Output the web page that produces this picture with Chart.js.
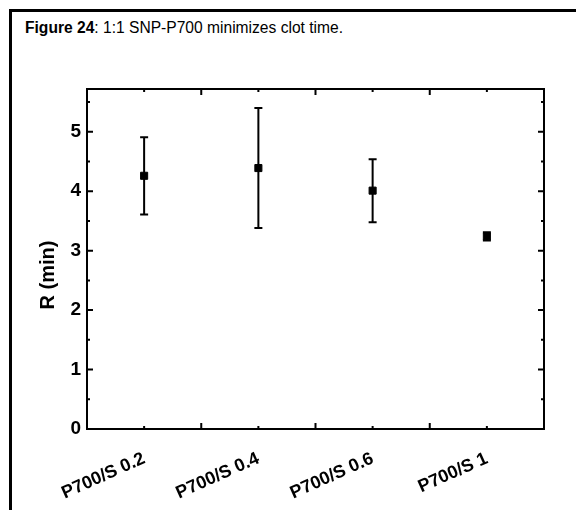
<!DOCTYPE html>
<html>
<head>
<meta charset="utf-8">
<script src="https://cdn.jsdelivr.net/npm/chart.js@4.4.0/dist/chart.umd.min.js"></script>
<style>
  html, body { margin: 0; padding: 0; background: #fff; }
  #wrap { position: relative; width: 576px; height: 510px; overflow: hidden; }
  #frame { position: absolute; left: 9px; top: 9px; width: 620px; height: 620px; border: 3px solid #000; box-sizing: border-box; }
  #caption { position: absolute; left: 25px; top: 19px; line-height: 18px; font-size: 15.6px; font-family: "Liberation Sans", Arial, sans-serif; color: #000; white-space: nowrap; }
  canvas { position: absolute; left: 0; top: 0; }
</style>
</head>
<body>
<div id="wrap">
  <div id="frame"></div>
  <div id="caption"><b>Figure 24</b>: 1:1 SNP-P700 minimizes clot time.</div>
  <canvas id="chart" width="576" height="510"></canvas>
</div>
<script>
// data
const categories = ["P700/S 0.2", "P700/S 0.4", "P700/S 0.6", "P700/S 1"];
const rMean = [4.26, 4.39, 4.01, 3.24];
const rSD = [0.65, 1.01, 0.53, 0.07];
const yTicks = [0, 1, 2, 3, 4, 5];
const yMinorTicks = [0.5, 1.5, 2.5, 3.5, 4.5, 5.5];

const FONT = "'Liberation Sans', Arial, sans-serif";

// error bars, drawn under the square markers
const errorBars = {
  id: "errorBars",
  beforeDatasetsDraw(chart) {
    const ctx = chart.ctx;
    const xs = chart.scales.x, ys = chart.scales.y;
    ctx.save();
    ctx.strokeStyle = "#000";
    ctx.lineWidth = 2;
    rMean.forEach((m, i) => {
      const x = xs.getPixelForValue(i);
      const yHi = ys.getPixelForValue(m + rSD[i]);
      const yLo = ys.getPixelForValue(m - rSD[i]);
      ctx.beginPath();
      ctx.moveTo(x, yHi); ctx.lineTo(x, yLo);
      ctx.moveTo(x - 4, yHi); ctx.lineTo(x + 4, yHi);
      ctx.moveTo(x - 4, yLo); ctx.lineTo(x + 4, yLo);
      ctx.stroke();
    });
    ctx.restore();
  }
};

// box around the plot, inward ticks, y title
const frameAndTicks = {
  id: "frameAndTicks",
  afterDraw(chart) {
    const ctx = chart.ctx;
    const a = chart.chartArea;
    const xs = chart.scales.x, ys = chart.scales.y;
    ctx.save();
    ctx.strokeStyle = "#000";
    ctx.lineWidth = 2;
    ctx.strokeRect(a.left, a.top, a.right - a.left, a.bottom - a.top);

    ctx.beginPath();
    yTicks.forEach(v => {
      const y = ys.getPixelForValue(v);
      ctx.moveTo(a.left, y); ctx.lineTo(a.left + 6, y);
      ctx.moveTo(a.right, y); ctx.lineTo(a.right - 6, y);
    });
    yMinorTicks.forEach(v => {
      const y = ys.getPixelForValue(v);
      ctx.moveTo(a.left, y); ctx.lineTo(a.left + 3, y);
      ctx.moveTo(a.right, y); ctx.lineTo(a.right - 3, y);
    });
    for (let i = 0; i < categories.length; i++) {
      const x = xs.getPixelForValue(i);
      ctx.moveTo(x, a.bottom); ctx.lineTo(x, a.bottom - 3);
      ctx.moveTo(x, a.top); ctx.lineTo(x, a.top + 3);
      if (i < categories.length - 1) {
        const xb = (x + xs.getPixelForValue(i + 1)) / 2;
        ctx.moveTo(xb, a.bottom); ctx.lineTo(xb, a.bottom - 6);
        ctx.moveTo(xb, a.top); ctx.lineTo(xb, a.top + 6);
      }
    }
    ctx.stroke();

    ctx.translate(48, 275);
    ctx.rotate(-Math.PI / 2);
    ctx.fillStyle = "#000";
    ctx.font = "bold 20px " + FONT;
    ctx.textAlign = "center";
    ctx.textBaseline = "middle";
    ctx.fillText("R (min)", 0, 0);
    ctx.restore();
  }
};

const config = {
  type: "line",
  data: {
    labels: categories,
    datasets: [{
      data: rMean,
      showLine: false,
      pointStyle: "rect",
      pointRadius: 5,
      pointBorderWidth: 1,
      backgroundColor: "#000",
      borderColor: "#000"
    }]
  },
  options: {
    responsive: false,
    animation: false,
    layout: { padding: { left: 0, top: 89, right: 32, bottom: 0 } },
    scales: {
      x: {
        type: "category",
        offset: true,
        grid: { display: false, drawTicks: false },
        border: { display: false },
        ticks: {
          autoSkip: false,
          minRotation: 24,
          maxRotation: 24,
          padding: 19,
          color: "#000",
          font: { family: FONT, size: 18, weight: "bold" }
        },
        afterFit(scale) { scale.height = 81; }
      },
      y: {
        min: 0,
        max: 5.72,
        grid: { display: false, drawTicks: false },
        border: { display: false },
        afterBuildTicks(scale) { scale.ticks = yTicks.map(v => ({ value: v })); },
        ticks: {
          padding: 6,
          color: "#000",
          font: { family: FONT, size: 19, weight: "bold" }
        },
        afterFit(scale) { scale.width = 87; }
      }
    },
    plugins: {
      legend: { display: false },
      tooltip: { enabled: false }
    }
  },
  plugins: [errorBars, frameAndTicks]
};

const ctx = document.getElementById("chart").getContext("2d");
const rChart = new Chart(ctx, config);
</script>
</body>
</html>
